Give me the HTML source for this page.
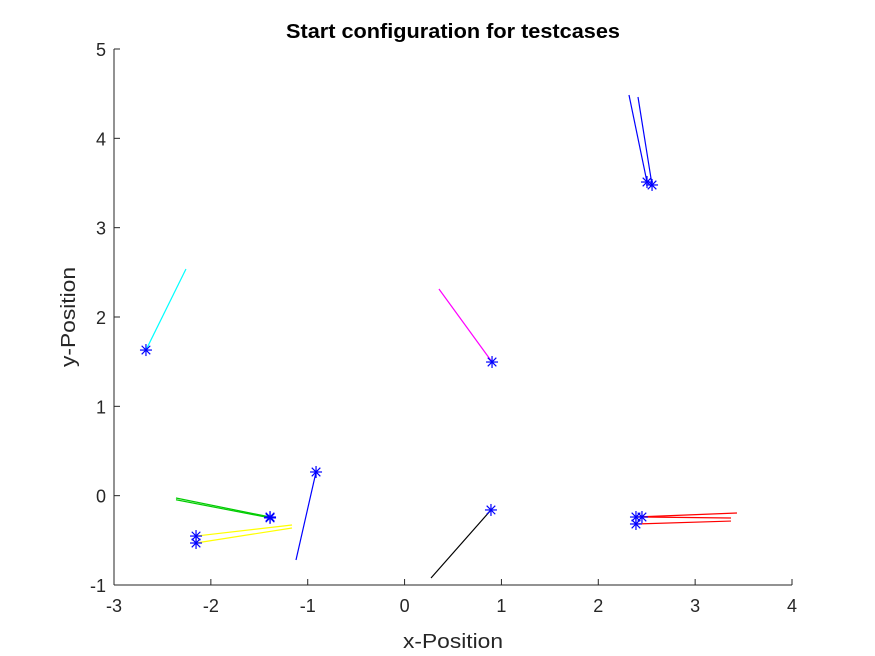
<!DOCTYPE html>
<html><head><meta charset="utf-8"><style>
body{margin:0;background:#fff;}
svg{display:block;font-family:"Liberation Sans",sans-serif;}
</style></head><body>
<svg id="chart" width="875" height="656">
<rect width="875" height="656" fill="#fff"/>
<text x="453" y="38" text-anchor="middle" font-size="20" font-weight="bold" fill="#000" textLength="334" lengthAdjust="spacingAndGlyphs">Start configuration for testcases</text>
<g id="axes"></g>
<g id="marks"></g>
<text x="453" y="648" text-anchor="middle" font-size="20" fill="#262626" textLength="100" lengthAdjust="spacingAndGlyphs">x-Position</text>
<text transform="translate(75,317) rotate(-90)" text-anchor="middle" font-size="20" fill="#262626" textLength="100" lengthAdjust="spacingAndGlyphs">y-Position</text>
</svg>
<script>
const xTicks=[-3,-2,-1,0,1,2,3,4];
const yTicks=[-1,0,1,2,3,4,5];
const segColors=['cyan','magenta','black','blue','blue','#00cc00','#00cc00','yellow','yellow','blue','red','red','red'];
const startX=[-2.67,0.903,0.892,2.503,2.555,-1.389,-1.389,-2.153,-2.153,-0.914,2.389,2.451,2.389];
const startY=[1.63,1.496,-0.160,3.511,3.478,-0.239,-0.249,-0.452,-0.530,0.265,-0.239,-0.239,-0.317];
const endX=[-2.257,0.355,0.273,2.317,2.410,-2.360,-2.360,-1.162,-1.162,-1.121,3.432,3.370,3.370];
const endY=[2.537,2.313,-0.922,4.485,4.463,-0.026,-0.046,-0.328,-0.362,-0.72,-0.194,-0.250,-0.284];
const X0=114,X1=792,Y0=585,Y1=49;
const sx=v=>X0+(v-(-3))/7*(X1-X0);
const sy=v=>Y0-(v-(-1))/6*(Y0-Y1);
const NS='http://www.w3.org/2000/svg';
function mk(tag,attrs,parent){const e=document.createElementNS(NS,tag);for(const k in attrs)e.setAttribute(k,attrs[k]);parent.appendChild(e);return e;}
const ax=document.getElementById('axes');
let l=mk('line',{x1:X0,y1:Y0,x2:X1,y2:Y0,stroke:'#262626','stroke-width':1},ax);


l=mk('line',{x1:X0,y1:Y0,x2:X0,y2:Y1,stroke:'#262626','stroke-width':1},ax);


xTicks.forEach(t=>{const x=sx(t);
 mk('line',{x1:x,y1:Y0,x2:x,y2:Y0-6,stroke:'#262626'},ax);
 const tx=mk('text',{x:x,y:Y0+27,'text-anchor':'middle','font-size':18,fill:'#262626'},ax);tx.textContent=t;
 
 });
yTicks.forEach(t=>{const y=sy(t);
 mk('line',{x1:X0,y1:y,x2:X0+6,y2:y,stroke:'#262626'},ax);
 const tx=mk('text',{x:X0-8,y:y+7,'text-anchor':'end','font-size':18,fill:'#262626'},ax);tx.textContent=t;
 
 });
const mg=document.getElementById('marks');
for(let i=0;i<startX.length;i++){
 const s=mk('line',{x1:sx(startX[i]),y1:sy(startY[i]),x2:sx(endX[i]),y2:sy(endY[i]),stroke:segColors[i],'stroke-width':1.2},mg);
 
 
}
for(let i=0;i<startX.length;i++){
 const cx=sx(startX[i]),cy=sy(startY[i]),r=6,d=4.3;
 const g=mk('g',{stroke:'#0000ff','stroke-width':1.2},mg);
 
 
 mk('line',{x1:cx-r,y1:cy,x2:cx+r,y2:cy},g);
 mk('line',{x1:cx,y1:cy-r,x2:cx,y2:cy+r},g);
 mk('line',{x1:cx-d,y1:cy-d,x2:cx+d,y2:cy+d},g);
 mk('line',{x1:cx-d,y1:cy+d,x2:cx+d,y2:cy-d},g);
}
</script>
</body></html>
